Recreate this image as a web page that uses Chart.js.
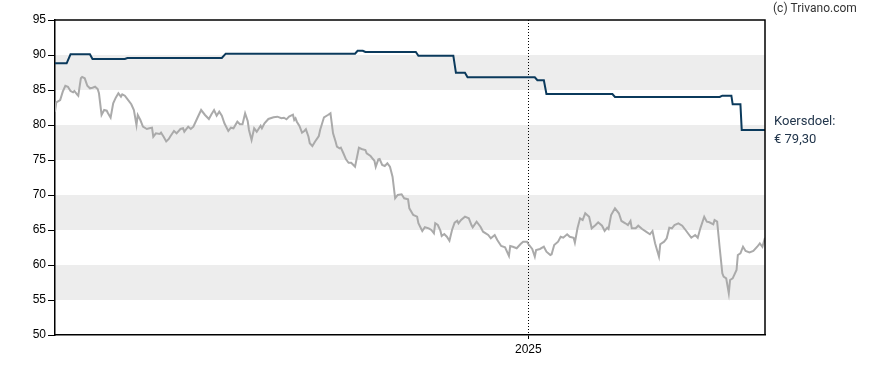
<!DOCTYPE html>
<html>
<head>
<meta charset="utf-8">
<script src="https://cdn.jsdelivr.net/npm/chart.js@4/dist/chart.umd.min.js"></script>
<style>
  html, body { margin: 0; padding: 0; background: #fff; }
  #wrap { position: relative; width: 888px; height: 370px; }
</style>
</head>
<body>
<div id="wrap"><canvas id="c"></canvas></div>
<script>
// ---- Data (x = days since 2024-01-01) ----
const priceDays = [0,1,4,6,8,10,12,14,15,17,18,20,21,23,25,27,29,31,33,34,36,38,40,41,43,45,47,49,51,52,54,56,59,61,63,64,66,68,71,73,75,76,78,81,82,84,86,88,89,92,94,97,99,100,103,105,107,110,113,116,119,121,123,125,127,129,131,134,136,138,141,143,145,147,149,150,152,154,156,159,160,162,165,169,172,175,177,179,181,184,185,186,187,189,191,193,194,196,197,199,201,204,205,208,211,213,215,217,218,220,221,223,225,227,229,230,232,235,237,240,241,244,246,247,248,250,251,253,255,257,259,261,263,265,268,270,273,274,277,280,281,284,286,289,291,293,294,296,298,299,301,303,305,307,309,311,312,314,317,320,322,323,326,329,331,335,337,340,342,345,348,351,352,354,357,360,362,365,366,369,371,372,375,378,380,383,384,386,389,391,393,396,398,401,402,404,406,408,410,413,415,418,420,423,425,427,428,430,433,436,438,441,443,445,446,449,451,454,457,460,462,464,467,468,471,473,475,477,479,482,485,487,490,492,495,497,499,502,504,506,509,510,512,514,516,517,519,521,522,524,527,528,530,532,534,537,540,543,545,547,549];
const priceValues = [81.90,83.24,83.57,84.76,85.61,85.47,84.86,84.67,84.86,84.39,84.19,86.67,86.86,86.67,85.61,85.24,85.33,85.47,85.14,84.53,81.43,82.14,82.04,81.67,81.04,83.10,83.90,84.53,84.04,84.39,84.19,83.71,82.96,82.14,80.00,81.43,80.71,79.76,79.43,79.53,79.61,78.33,78.81,78.71,78.90,78.33,77.65,78.00,78.33,79.14,78.81,79.43,79.53,79.04,79.76,79.43,79.76,80.96,82.14,81.43,80.86,81.53,82.14,81.33,81.90,81.33,80.24,79.14,79.61,79.53,80.47,80.10,80.10,81.67,80.57,79.29,77.86,79.53,79.04,79.90,79.53,80.24,80.86,81.10,81.19,80.96,81.04,80.81,81.19,81.47,80.71,80.96,80.47,79.86,78.90,79.19,79.39,78.33,77.39,77.00,77.61,78.43,79.29,81.10,81.43,81.67,78.81,77.61,76.90,76.67,76.76,75.96,75.10,74.61,74.61,74.43,74.04,76.76,76.57,76.43,75.96,75.57,75.10,74.90,74.04,75.10,75.14,74.29,74.14,74.53,74.04,72.61,69.53,70.00,70.10,69.53,69.39,68.10,67.14,66.90,65.96,64.86,65.39,65.24,65.00,64.53,65.96,65.71,64.90,64.14,64.43,64.04,63.47,65.00,66.04,66.33,65.96,66.43,66.90,66.67,65.71,65.39,66.19,65.47,64.76,64.29,63.81,64.29,63.57,62.71,62.53,61.29,62.71,62.61,62.39,63.00,63.33,63.33,63.00,62.29,61.19,62.14,62.29,62.61,61.90,61.43,61.53,62.86,63.33,64.04,63.90,64.39,64.04,63.90,63.19,65.24,66.67,66.43,67.39,66.90,65.24,65.71,66.10,65.61,64.86,65.33,65.14,67.14,68.10,67.39,66.29,65.96,65.71,66.29,65.24,65.24,65.61,65.14,64.76,64.39,64.86,63.10,61.19,62.96,63.33,63.81,65.33,65.24,65.71,65.96,65.61,65.14,64.39,63.90,64.29,63.90,65.24,66.90,66.19,66.10,65.81,66.43,66.19,62.39,58.81,58.33,58.10,55.96,57.86,58.10,59.29,61.43,61.67,62.61,62.00,61.81,62.00,62.61,63.10,62.61,63.90];

const targetDays = [0,9,12,27,29,54,56,129,132,232,234,238,240,279,281,308,310,317,319,371,373,378,380,431,433,514,516,523,524,530,531,549];
const targetValues = [88.81,88.81,90.10,90.10,89.43,89.43,89.57,89.57,90.19,90.19,90.61,90.61,90.43,90.43,89.90,89.90,87.47,87.47,86.81,86.81,86.39,86.39,84.43,84.43,84.00,84.00,84.19,84.19,82.96,82.96,79.30,79.30];

const yMin = 50, yMax = 95, yStep = 5;
const xMin = 0, xMax = 549;
const xTickDays = [366];
const xTickLabels = ['2025'];
const shadedBands = [[55, 60], [65, 70], [75, 80], [85, 90]];
const targetLabelLines = ['Koersdoel:', '€ 79,30'];
const copyrightText = '(c) Trivano.com';

// ---- Build ----
const toPoints = (xs, ys) => xs.map((x, i) => ({ x: x, y: ys[i] }));

const deco = {
  id: 'deco',
  beforeDraw(chart) {
    const { ctx, chartArea: a, scales: { x, y } } = chart;
    ctx.save();
    ctx.fillStyle = '#ededed';
    shadedBands.forEach(([lo, hi]) => {
      const yt = y.getPixelForValue(hi), yb = y.getPixelForValue(lo);
      ctx.fillRect(a.left, yt, a.right - a.left, yb - yt);
    });
    ctx.restore();
  },
  beforeDatasetsDraw(chart) {
    const { ctx, chartArea: a, scales: { x } } = chart;
    ctx.save();
    ctx.strokeStyle = '#000';
    ctx.lineWidth = 1;
    ctx.setLineDash([1, 2]);
    xTickDays.forEach(d => {
      const px = Math.round(x.getPixelForValue(d)) + 0.5;
      ctx.beginPath();
      ctx.moveTo(px, a.top);
      ctx.lineTo(px, a.bottom);
      ctx.stroke();
    });
    ctx.restore();
  },
  afterDraw(chart) {
    const { ctx, chartArea: a, scales: { y } } = chart;
    ctx.save();
    ctx.strokeStyle = '#000';
    ctx.lineWidth = 1.5;
    ctx.beginPath();
    ctx.moveTo(a.left, a.top);
    ctx.lineTo(a.right, a.top);
    ctx.lineTo(a.right, a.bottom);
    ctx.stroke();
    ctx.font = '12px Roboto';
    ctx.fillStyle = '#333';
    ctx.textAlign = 'left';
    ctx.textBaseline = 'middle';
    ctx.fillText(copyrightText, a.right + 8, 9);
    ctx.fillStyle = '#22364c';
    ctx.font = '13px Roboto';
    const ty = y.getPixelForValue(targetValues[targetValues.length - 1]);
    ctx.fillText(targetLabelLines[0], a.right + 9, ty - 8);
    ctx.fillText(targetLabelLines[1], a.right + 9, ty + 10);
    ctx.restore();
  }
};

new Chart(document.getElementById('c'), {
  type: 'line',
  data: {
    datasets: [
      {
        label: 'Koers',
        data: toPoints(priceDays, priceValues),
        borderColor: '#aaaaaa',
        borderWidth: 2,
        pointRadius: 0,
        tension: 0,
        fill: false
      },
      {
        label: 'Koersdoel',
        data: toPoints(targetDays, targetValues),
        borderColor: '#0b3a5c',
        borderWidth: 2,
        pointRadius: 0,
        tension: 0,
        fill: false
      }
    ]
  },
  options: {
    responsive: true,
    maintainAspectRatio: false,
    animation: false,
    events: [],
    layout: { padding: { left: 0, right: 123, top: 20, bottom: 0 } },
    plugins: { legend: { display: false }, tooltip: { enabled: false } },
    scales: {
      x: {
        type: 'linear',
        min: xMin,
        max: xMax,
        afterBuildTicks: s => { s.ticks = xTickDays.map(v => ({ value: v })); },
        afterFit: s => { s.height = 35; },
        border: { display: true, color: '#000', width: 1.5 },
        grid: { drawOnChartArea: false, drawTicks: true, tickLength: 4, color: '#000' },
        ticks: {
          autoSkip: false, maxRotation: 0, color: '#000', padding: 3,
          font: { family: 'Liberation Sans', size: 12 },
          callback: v => { const i = xTickDays.indexOf(v); return i >= 0 ? xTickLabels[i] : ''; }
        }
      },
      y: {
        min: yMin,
        max: yMax,
        afterFit: s => { s.width = 55; },
        border: { display: true, color: '#000', width: 1.5 },
        grid: { drawOnChartArea: false, drawTicks: true, tickLength: 7, color: '#000' },
        ticks: {
          stepSize: yStep, color: '#000', padding: 2,
          font: { family: 'Liberation Sans', size: 12 }
        }
      }
    }
  },
  plugins: [deco]
});
</script>
</body>
</html>
